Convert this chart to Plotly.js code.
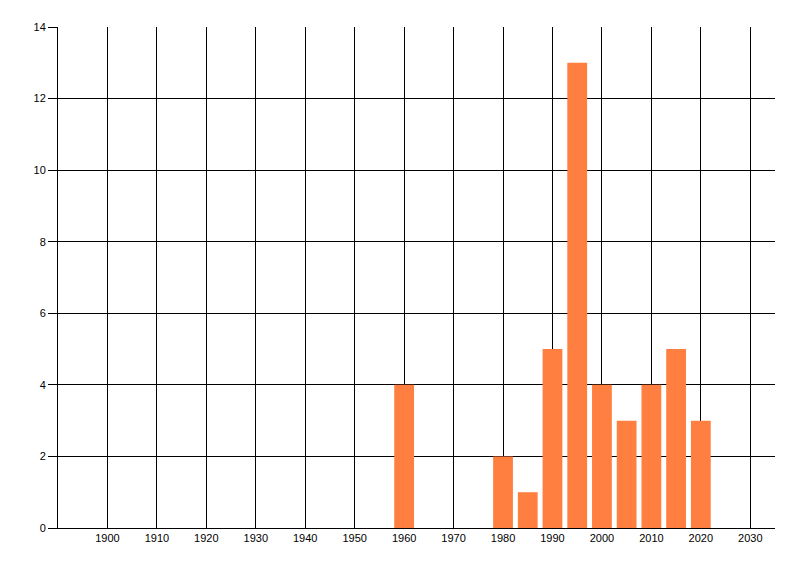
<!DOCTYPE html>
<html>
<head>
<meta charset="utf-8">
<script src="https://cdn.plot.ly/plotly-3.0.1.min.js"></script>
<style>html,body{margin:0;padding:0;background:#fff;}#chart{width:800px;height:576px;}</style>
</head>
<body>
<div id="chart"></div>
<script>
const years = [1960, 1980, 1985, 1990, 1995, 2000, 2005, 2010, 2015, 2020];
const counts = [4, 2, 1, 5, 13, 4, 3, 4, 5, 3];
const xTicks = [1900, 1910, 1920, 1930, 1940, 1950, 1960, 1970, 1980, 1990, 2000, 2010, 2020, 2030];
const yTicks = [0, 2, 4, 6, 8, 10, 12, 14];

const trace = {
  type: 'bar',
  x: years,
  y: counts,
  width: 4,
  marker: {color: '#ff7f40', line: {width: 0}},
  hoverinfo: 'x+y'
};

const layout = {
  width: 800, height: 576,
  margin: {l: 57.5, r: 24.5, t: 26.5, b: 47.5, pad: 0},
  paper_bgcolor: '#ffffff',
  plot_bgcolor: '#ffffff',
  showlegend: false,
  font: {family: 'Liberation Sans, Arial, sans-serif', size: 11, color: '#000000'},
  xaxis: {
    range: [1890, 2035],
    tickvals: xTicks,
    ticktext: xTicks.map(String),
    showgrid: true, gridcolor: '#000000', gridwidth: 1,
    showline: true, linecolor: '#000000', linewidth: 1,
    zeroline: false,
    ticks: '',
    tickfont: {size: 11, color: '#000000'},
    fixedrange: true
  },
  yaxis: {
    range: [0, 14],
    tickvals: yTicks,
    ticktext: yTicks.map(String),
    showgrid: true, gridcolor: '#000000', gridwidth: 1,
    showline: true, linecolor: '#000000', linewidth: 1,
    zeroline: false,
    ticks: 'outside', ticklen: 9, tickcolor: '#000000', tickwidth: 1,
    ticklabelstandoff: 0,
    tickfont: {size: 11, color: '#000000'},
    fixedrange: true
  }
};

Plotly.newPlot('chart', [trace], layout, {displayModeBar: false, staticPlot: true});
</script>
</body>
</html>
